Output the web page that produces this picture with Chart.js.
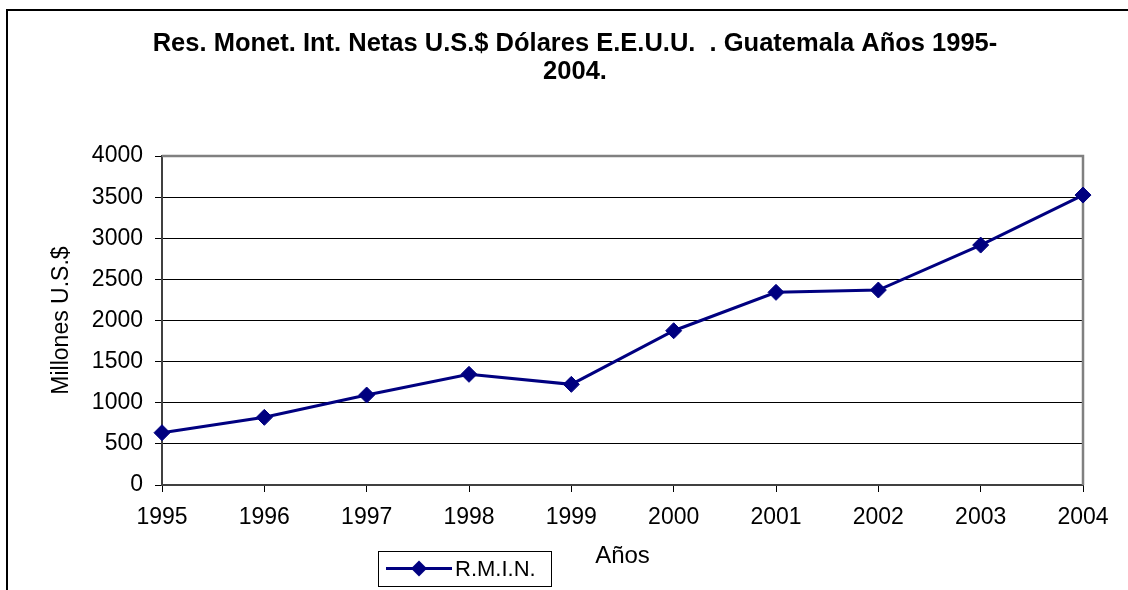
<!DOCTYPE html>
<html>
<head>
<meta charset="utf-8">
<script src="https://cdn.jsdelivr.net/npm/chart.js@4/dist/chart.umd.min.js"></script>
<style>
  html, body { margin: 0; padding: 0; background: #fff; overflow: hidden; }
  #wrap { position: relative; width: 1128px; height: 590px; }
</style>
</head>
<body>
<div id="wrap"><canvas id="chart" width="1128" height="590"></canvas></div>
<script>
  const years = ['1995', '1996', '1997', '1998', '1999', '2000', '2001', '2002', '2003', '2004'];
  const rmin = [636, 823, 1094, 1346, 1224, 1876, 2343, 2371, 2918, 3526];
  const yTicks = [0, 500, 1000, 1500, 2000, 2500, 3000, 3500, 4000];
  const titleLines = ['Res. Monet. Int. Netas U.S.$ Dólares E.E.U.U.  . Guatemala Años 1995-', '2004.'];
  const seriesLabel = 'R.M.I.N.';
  const yTitle = 'Millones U.S.$';
  const xTitle = 'Años';

  const FONT = 'Arial, "Liberation Sans", sans-serif';
  const NAVY = '#000080';

  // outer chart frame (only the left and top edges are inside the picture)
  const framePlugin = {
    id: 'frame',
    beforeDraw(chart) {
      const { ctx } = chart;
      ctx.save();
      ctx.strokeStyle = '#000';
      ctx.lineWidth = 2;
      ctx.beginPath();
      ctx.moveTo(7, chart.height + 5);
      ctx.lineTo(7, 10);
      ctx.lineTo(chart.width + 5, 10);
      ctx.stroke();
      ctx.restore();
    }
  };

  // grey plot area border on top and right
  const plotBorderPlugin = {
    id: 'plotBorder',
    beforeDatasetsDraw(chart) {
      const { ctx, chartArea: a } = chart;
      ctx.save();
      ctx.strokeStyle = '#808080';
      ctx.lineWidth = 2.5;
      ctx.beginPath();
      ctx.moveTo(a.left, a.top);
      ctx.lineTo(a.right, a.top);
      ctx.lineTo(a.right, a.bottom);
      ctx.stroke();
      ctx.restore();
    }
  };

  // boxed legend to the left of the x axis title
  const legendBoxPlugin = {
    id: 'legendBox',
    afterDraw(chart) {
      const { ctx } = chart;
      const ds = chart.data.datasets[0];
      const x = 378, y = 551, w = 173, h = 35;
      const cy = y + h / 2;
      ctx.save();
      ctx.strokeStyle = '#000';
      ctx.lineWidth = 1;
      ctx.strokeRect(x + 0.5, y + 0.5, w, h);

      ctx.strokeStyle = ds.borderColor;
      ctx.lineWidth = ds.borderWidth;
      ctx.beginPath();
      ctx.moveTo(x + 8, cy);
      ctx.lineTo(x + 74, cy);
      ctx.stroke();

      const mx = x + 41, r = ds.pointRadius;
      ctx.fillStyle = ds.pointBackgroundColor;
      ctx.beginPath();
      ctx.moveTo(mx, cy - r);
      ctx.lineTo(mx + r, cy);
      ctx.lineTo(mx, cy + r);
      ctx.lineTo(mx - r, cy);
      ctx.closePath();
      ctx.fill();

      ctx.fillStyle = '#000';
      ctx.font = '22px ' + FONT;
      ctx.textBaseline = 'middle';
      ctx.textAlign = 'left';
      ctx.fillText(ds.label, x + 77, cy + 1);
      ctx.restore();
    }
  };

  new Chart(document.getElementById('chart'), {
    type: 'line',
    data: {
      labels: years,
      datasets: [{
        label: seriesLabel,
        data: rmin,
        borderColor: NAVY,
        backgroundColor: NAVY,
        borderWidth: 3,
        pointStyle: 'rectRot',
        pointRadius: 8,
        pointBackgroundColor: NAVY,
        pointBorderColor: NAVY,
        pointBorderWidth: 1,
        tension: 0
      }]
    },
    options: {
      responsive: false,
      animation: false,
      devicePixelRatio: 1,
      layout: { padding: { top: 0, left: 67, right: 45, bottom: 0 } },
      plugins: {
        legend: { display: false },
        tooltip: { enabled: false },
        title: {
          display: true,
          text: titleLines,
          color: '#000',
          font: { family: FONT, size: 25.5, weight: 'bold', lineHeight: 1.1 },
          padding: { top: 30, bottom: 70 }
        }
      },
      scales: {
        x: {
          offset: false,
          grid: { drawOnChartArea: false, drawTicks: true, tickLength: 7, color: '#000' },
          border: { color: '#404040', width: 2 },
          ticks: { color: '#000', font: { family: FONT, size: 23 }, padding: 12, maxRotation: 0, autoSkip: false },
          title: {
            display: true,
            text: xTitle,
            color: '#000',
            font: { family: FONT, size: 24 },
            padding: { top: 0, bottom: 19 }
          },
          afterFit(scale) { scale.height = 105; }
        },
        y: {
          min: 0,
          max: 4000,
          afterBuildTicks(scale) { scale.ticks = yTicks.map((v) => ({ value: v })); },
          grid: { color: '#000', lineWidth: 1, tickLength: 7 },
          border: { color: '#404040', width: 2 },
          ticks: { color: '#000', font: { family: FONT, size: 23 }, padding: 12, callback: (v) => String(v) },
          title: {
            display: true,
            text: yTitle,
            color: '#000',
            font: { family: FONT, size: 23 },
            padding: { top: -19, bottom: 0 }
          },
          afterFit(scale) { scale.width = 95; }
        }
      }
    },
    plugins: [framePlugin, plotBorderPlugin, legendBoxPlugin]
  });
</script>
</body>
</html>
